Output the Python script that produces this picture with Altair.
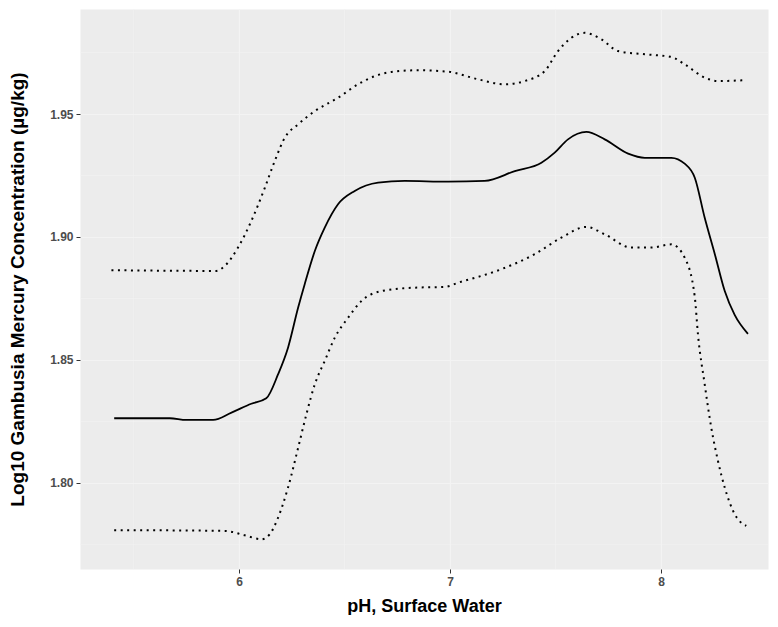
import altair as alt
import pandas as pd

# Fitted curve (solid)
fit_x = [5.408, 5.672, 5.750, 5.877, 5.964, 6.058, 6.129, 6.185, 6.232, 6.280,
         6.311, 6.359, 6.406, 6.469, 6.548, 6.659, 6.785, 6.991, 7.164, 7.307,
         7.433, 7.496, 7.559, 7.646, 7.733, 7.844, 7.923, 8.049, 8.112, 8.160,
         8.207, 8.255, 8.302, 8.349, 8.412]
fit_y = [1.8263, 1.8263, 1.8256, 1.8256, 1.8286, 1.8322, 1.8344, 1.8442, 1.8550, 1.8713,
         1.8808, 1.8943, 1.9038, 1.9133, 1.9187, 1.9221, 1.9228, 1.9225, 1.9228, 1.9268,
         1.9302, 1.9343, 1.9397, 1.9427, 1.9397, 1.9339, 1.9322, 1.9322, 1.9298, 1.9241,
         1.9078, 1.8930, 1.8780, 1.8683, 1.8606]

# Upper confidence band (dotted)
upper_x = [5.395, 5.892, 5.932, 5.995, 6.058, 6.122, 6.169, 6.217, 6.280, 6.359,
           6.469, 6.564, 6.643, 6.722, 6.848, 6.991, 7.133, 7.259, 7.354, 7.449,
           7.512, 7.575, 7.638, 7.717, 7.796, 7.923, 8.049, 8.112, 8.207, 8.270, 8.404]
upper_y = [1.8865, 1.8862, 1.8882, 1.8957, 1.9065, 1.9200, 1.9309, 1.9404, 1.9458, 1.9512,
           1.9566, 1.9621, 1.9654, 1.9671, 1.9678, 1.9672, 1.9641, 1.9621, 1.9634, 1.9675,
           1.9756, 1.9810, 1.9830, 1.9804, 1.9756, 1.9743, 1.9732, 1.9702, 1.9648, 1.9634, 1.9638]

# Lower confidence band (dotted)
lower_x = [5.408, 5.932, 6.027, 6.106, 6.145, 6.185, 6.232, 6.280, 6.319, 6.359,
           6.406, 6.454, 6.517, 6.580, 6.674, 6.833, 6.975, 7.038, 7.243, 7.401,
           7.527, 7.646, 7.733, 7.859, 7.954, 8.049, 8.112, 8.160, 8.175, 8.207,
           8.238, 8.270, 8.302, 8.349, 8.404]
lower_y = [1.7808, 1.7805, 1.7787, 1.7771, 1.7791, 1.7859, 1.7981, 1.8143, 1.8279, 1.8401,
           1.8496, 1.8591, 1.8672, 1.8740, 1.8780, 1.8794, 1.8797, 1.8814, 1.8869, 1.8930,
           1.8997, 1.9041, 1.9011, 1.8957, 1.8957, 1.8970, 1.8916, 1.8756, 1.8604, 1.8401,
           1.8225, 1.8089, 1.7981, 1.7873, 1.7825]

x_ticks = [6, 7, 8]
y_ticks = [1.80, 1.85, 1.90, 1.95]
x_minor = [5.5, 6.5, 7.5]
y_minor = [1.775, 1.825, 1.875, 1.925, 1.975]

X_DOMAIN = [5.246, 8.507]
Y_DOMAIN = [1.765, 1.9927]

fit_df = pd.DataFrame({"x": fit_x, "y": fit_y})
band_df = pd.concat([
    pd.DataFrame({"x": upper_x, "y": upper_y, "band": "upper"}),
    pd.DataFrame({"x": lower_x, "y": lower_y, "band": "lower"}),
])

FONT = "Liberation Sans"
GRID = "#f3f3f3"

xs = alt.Scale(domain=X_DOMAIN, nice=False, zero=False)
ys = alt.Scale(domain=Y_DOMAIN, nice=False, zero=False)

x_axis = alt.Axis(values=x_ticks, format="d", title="pH, Surface Water",
                  grid=True, gridColor=GRID, gridWidth=1.1, domain=False,
                  tickColor="#333333", tickSize=4, labelPadding=3,
                  labelFont=FONT, labelFontWeight="bold", labelFontSize=12,
                  labelColor="#4d4d4d", titleFont=FONT, titleFontWeight="bold",
                  titleFontSize=18, titleColor="black", titlePadding=10)
y_axis = alt.Axis(values=y_ticks, format=".2f",
                  title="Log10 Gambusia Mercury Concentration (µg/kg)",
                  grid=True, gridColor=GRID, gridWidth=1.1, domain=False,
                  tickColor="#333333", tickSize=4, labelPadding=3,
                  labelFont=FONT, labelFontWeight="bold", labelFontSize=12,
                  labelColor="#4d4d4d", titleFont=FONT, titleFontWeight="bold",
                  titleFontSize=19, titleColor="black", titlePadding=22)

minor_x = alt.Chart(pd.DataFrame({"x": x_minor})).mark_rule(
    color=GRID, strokeWidth=0.6).encode(x=alt.X("x:Q", scale=xs, axis=x_axis))
minor_y = alt.Chart(pd.DataFrame({"y": y_minor})).mark_rule(
    color=GRID, strokeWidth=0.6).encode(y=alt.Y("y:Q", scale=ys, axis=y_axis))

bands = alt.Chart(band_df).mark_line(
    color="black", strokeWidth=2, strokeDash=[2, 4.5], interpolate="monotone",
    strokeCap="butt").encode(
    x=alt.X("x:Q", scale=xs, axis=x_axis),
    y=alt.Y("y:Q", scale=ys, axis=y_axis),
    detail="band:N",
)

fit = alt.Chart(fit_df).mark_line(
    color="black", strokeWidth=1.8, interpolate="monotone").encode(
    x=alt.X("x:Q", scale=xs, axis=x_axis),
    y=alt.Y("y:Q", scale=ys, axis=y_axis),
)

chart = alt.layer(minor_x, minor_y, bands, fit).properties(
    width=688, height=560,
    padding={"left": 0, "top": 0, "right": 0, "bottom": 0},
    background="white",
).configure_view(fill="#ececec", stroke="transparent")

chart.save("out.html", embed_options={"renderer": "svg", "actions": False})
